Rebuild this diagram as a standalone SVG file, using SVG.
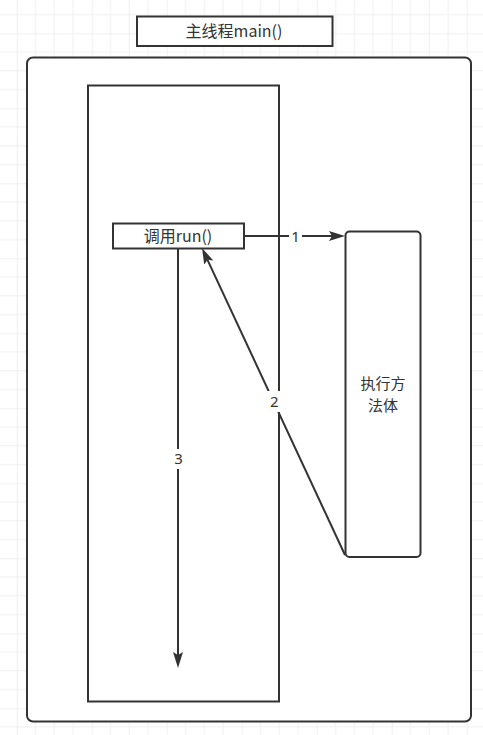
<svg xmlns="http://www.w3.org/2000/svg" width="483" height="735" viewBox="0 0 483 735">
  <defs>
    <pattern id="grid" x="16.7" y="33.3" width="75" height="75" patternUnits="userSpaceOnUse">
      <path d="M18.75 0V75M37.5 0V75M56.25 0V75M0 18.75H75M0 37.5H75M0 56.25H75" stroke="#f0f0f0" stroke-width="1" fill="none"/>
      <path d="M0 0V75M0 0H75" stroke="#e3e3e3" stroke-width="1" fill="none"/>
    </pattern>
    <marker id="arrow" markerUnits="userSpaceOnUse" markerWidth="17" markerHeight="11" refX="3" refY="5" orient="auto" viewBox="0 0 17 11">
      <path d="M0,0 L16,5 L0,10 L3,5 Z" fill="#333333"/>
    </marker>
    <style>
      .box { fill: #ffffff; stroke: #333333; stroke-width: 2; }
      .txt { font-family: "Microsoft YaHei", "Noto Sans CJK SC", "Noto Sans", sans-serif; font-size: 16px; fill: #333333; text-anchor: middle; }
      .txt2 { font-family: "Microsoft YaHei", "Noto Sans CJK SC", "Noto Sans", sans-serif; font-size: 15px; fill: #333333; text-anchor: middle; }
      .lbl { font-family: "Microsoft YaHei", "Noto Sans", "Noto Sans CJK SC", sans-serif; font-size: 15px; fill: #333333; text-anchor: middle; }
      .edge { stroke: #333333; stroke-width: 2; fill: none; }
      .lblbg { fill: #ffffff; }
    </style>
  </defs>
  <rect width="483" height="735" fill="#ffffff"/>
  <rect width="483" height="735" fill="url(#grid)"/>

  <g id="title">
    <rect class="box" x="137" y="16.5" width="195.5" height="29.5"/>
    <text class="txt" x="234" y="37">主线程main()</text>
  </g>

  <g id="outer">
    <rect class="box" x="27" y="57.5" width="444" height="664" rx="6" ry="6"/>
  </g>

  <g id="thread">
    <rect class="box" x="88" y="85.5" width="191" height="616"/>
  </g>

  <g id="run">
    <rect class="box" x="113" y="223.5" width="131" height="25"/>
    <text class="txt" x="178" y="241.5">调用run()</text>
  </g>

  <g id="exec">
    <rect class="box" x="345.5" y="231.5" width="75" height="325.5" rx="4" ry="4"/>
    <text class="txt2" x="383" y="389"><tspan x="383" y="389">执行方</tspan><tspan x="383" y="411">法体</tspan></text>
  </g>

  <g id="connectors">
    <line class="edge" x1="244" y1="236" x2="332" y2="236" marker-end="url(#arrow)"/>
    <line class="edge" x1="345" y1="555" x2="207.5" y2="259.8" marker-end="url(#arrow)"/>
    <line class="edge" x1="178" y1="249" x2="178" y2="655" marker-end="url(#arrow)"/>
    <rect class="lblbg" x="289" y="228" width="13" height="17"/>
    <text class="lbl" x="295.5" y="242.3">1</text>
    <rect class="lblbg" x="266" y="391" width="17" height="21"/>
    <text class="lbl" x="274.3" y="407">2</text>
    <rect class="lblbg" x="171" y="449" width="15" height="20"/>
    <text class="lbl" x="178.5" y="464">3</text>
  </g>
</svg>
